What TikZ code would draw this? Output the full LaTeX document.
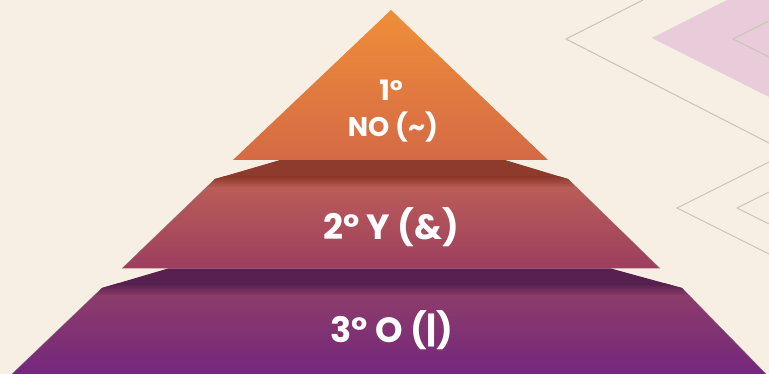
\documentclass[tikz,border=0pt]{standalone}
\usepackage{fontspec}
\setmainfont{Poppins}
\definecolor{bg}{HTML}{F8EFE4}
\definecolor{chev}{HTML}{CEC4BE}
\definecolor{pinkf}{HTML}{E8CCD9}
\definecolor{triTop}{HTML}{EF8E38}
\definecolor{triBot}{HTML}{D46A46}
\definecolor{bandA}{HTML}{8E3A2C}
\definecolor{faceAtop}{HTML}{BA5C57}
\definecolor{faceAbot}{HTML}{9C3E60}
\definecolor{bandB}{HTML}{58204E}
\definecolor{faceBtop}{HTML}{8C3C6A}
\definecolor{faceBbot}{HTML}{74267E}
\tikzset{
  chevline/.style={draw=chev, line width=1.1pt},
  lbl/.style={text=white, font=\bfseries, anchor=base, inner sep=0pt},
  edgeline/.style={draw=black!55, line width=0.5pt, opacity=0.6}
}
\begin{document}
\begin{tikzpicture}[x=1pt,y=-1pt]
\useasboundingbox (0,0) rectangle (769,374);
\fill[bg] (0,0) rectangle (769,374);
% right decorations
\fill[pinkf] (727,0) -- (652,38) -- (769,97) -- (769,0) -- cycle;
\draw[chevline] (643,0) -- (566,39) -- (769,143);
\draw[chevline] (769,21) -- (733,39) -- (769,57);
\draw[chevline] (769,162) -- (677,208) -- (769,254);
\draw[chevline] (769,192) -- (737,208) -- (769,224);
% tier 3
\begin{scope}
  \clip (168,268.5) -- (611,268.5) -- (682,288) -- (766,374) -- (12,374) -- (102,288) -- cycle;
  \fill[bandB] (0,266) rectangle (769,290);
  \shade[top color=bandB, bottom color=faceBtop] (0,284) rectangle (769,296);
  \shade[top color=faceBtop, bottom color=faceBbot] (0,295.5) rectangle (769,375);
\end{scope}
\draw[edgeline] (102,288) -- (12,374);
\draw[edgeline] (682,288) -- (766,374);
% tier 2
\begin{scope}
  \clip (280,160) -- (505,160) -- (568,179) -- (660,268.5) -- (122,268.5) -- (215,179) -- cycle;
  \fill[bandA] (0,158) rectangle (769,180);
  \shade[top color=bandA, bottom color=faceAtop] (0,177) rectangle (769,188);
  \shade[top color=faceAtop, bottom color=faceAbot] (0,187.5) rectangle (769,269);
\end{scope}
\draw[edgeline] (215,179) -- (122,268.5);
\draw[edgeline] (568,179) -- (660,268.5);
% top triangle
\shade[top color=triTop, bottom color=triBot] (391,10) -- (548,160) -- (233,160) -- cycle;
% labels
\node[lbl, font=\bfseries\fontsize{28}{32}\selectfont] (l1a) at (391,101) {1°};
\node[lbl, font=\bfseries\fontsize{27}{32}\selectfont] (l1b) at (393,137) {NO (\textasciitilde)};
\node[lbl, font=\bfseries\fontsize{35}{40}\selectfont] (l2) at (391,240) {2° Y (\&)};
\node[lbl, font=\bfseries\fontsize{35}{40}\selectfont] (l3) at (392,342) {3° O (|)};
\end{tikzpicture}
\end{document}
